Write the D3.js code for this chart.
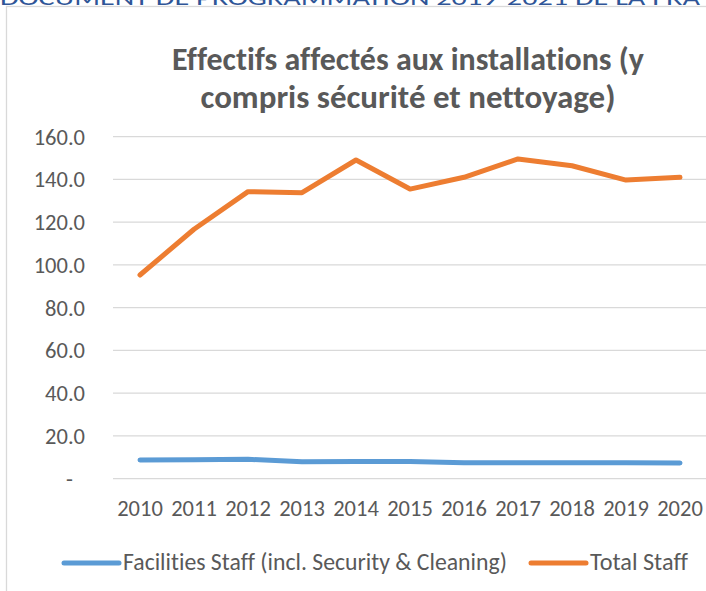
<!DOCTYPE html>
<html>
<head>
<meta charset="utf-8">
<script src="https://cdn.jsdelivr.net/npm/d3@7"></script>
<style>
  body { margin: 0; background: #fff; }
  svg { display: block; }
  text { font-family: Carlito, "Open Sans", sans-serif; font-variant-ligatures: none; }
</style>
</head>
<body>
<div id="chart-area"></div>
<script>
var width = 706;
var height = 591;

// data
var years = ["2010", "2011", "2012", "2013", "2014", "2015", "2016", "2017", "2018", "2019", "2020"];
var facilities = [8.7, 8.9, 9.1, 7.9, 8.0, 8.0, 7.5, 7.5, 7.5, 7.5, 7.4];
var totalStaff = [95.3, 116.7, 134.3, 133.8, 149.1, 135.5, 141.0, 149.6, 146.4, 139.7, 141.0];
var yTicks = [0, 20, 40, 60, 80, 100, 120, 140, 160];
var seriesNames = ["Facilities Staff (incl. Security & Cleaning)", "Total Staff"];
var seriesColors = ["#5B9BD5", "#ED7D31"];
var titleLines = ["Effectifs affectés aux installations (y", "compris sécurité et nettoyage)"];
var headerText = "DOCUMENT DE PROGRAMMATION 2019-2021 DE LA FRA";

var svg = d3.select("#chart-area").append("svg")
    .attr("width", width)
    .attr("height", height);

// header of the page, cut at the top
svg.append("text")
    .attr("x", 0)
    .attr("y", 5)
    .attr("font-size", 20)
    .attr("fill", "#2F5597")
    .attr("textLength", 700)
    .attr("lengthAdjust", "spacingAndGlyphs")
    .text(headerText);

// chart frame
svg.append("rect")
    .attr("x", 6.5)
    .attr("y", 6.5)
    .attr("width", 800)
    .attr("height", 700)
    .attr("fill", "none")
    .attr("stroke", "#D9D9D9")
    .attr("stroke-width", 1.3);

// fit a text to a given width by changing its size
function fitText(sel, target) {
    var len = sel.node().getComputedTextLength();
    var size = +sel.attr("font-size");
    sel.attr("font-size", size * target / len);
}

var titleWidths = [472, 415];
titleLines.forEach((t, i) => {
    var tt = svg.append("text")
        .attr("x", 408)
        .attr("y", 70 + i * 38)
        .attr("text-anchor", "middle")
        .attr("font-size", 24)
        .attr("font-weight", "bold")
        .attr("fill", "#595959")
        .text(t);
    fitText(tt, titleWidths[i]);
});

var x = d3.scaleBand()
    .domain(years)
    .range([113, 707]);

var y = d3.scaleLinear()
    .domain([0, 160])
    .range([478.7, 136.7]);

// gridlines
svg.append("g")
    .selectAll("line")
    .data(yTicks)
    .enter().append("line")
    .attr("x1", 113)
    .attr("x2", 707)
    .attr("y1", d => y(d))
    .attr("y2", d => y(d))
    .attr("stroke", "#D9D9D9")
    .attr("stroke-width", 1.3);

// y labels
svg.append("g")
    .selectAll("text")
    .data(yTicks)
    .enter().append("text")
    .attr("x", 85)
    .attr("dx", d => d === 0 ? -12 : 0)
    .attr("y", d => y(d))
    .attr("dy", "0.35em")
    .attr("text-anchor", "end")
    .attr("font-size", 22.5)
    .attr("fill", "#595959")
    .text(d => d === 0 ? "-" : d3.format(".1f")(d));

// x labels
svg.append("g")
    .selectAll("text")
    .data(years)
    .enter().append("text")
    .attr("x", d => x(d) + x.bandwidth() / 2)
    .attr("y", 516)
    .attr("text-anchor", "middle")
    .attr("font-size", 22.5)
    .attr("fill", "#595959")
    .text(d => d);

var line = d3.line()
    .x((d, i) => x(years[i]) + x.bandwidth() / 2)
    .y(d => y(d));

[facilities, totalStaff].forEach((s, i) => {
    svg.append("path")
        .datum(s)
        .attr("d", line)
        .attr("fill", "none")
        .attr("stroke", seriesColors[i])
        .attr("stroke-width", 5)
        .attr("stroke-linecap", "round")
        .attr("stroke-linejoin", "round");
});

// legend
var legendX = [64, 531];
var legendTextW = [384, 98];
seriesNames.forEach((n, i) => {
    svg.append("line")
        .attr("x1", legendX[i])
        .attr("x2", legendX[i] + 55)
        .attr("y1", 563)
        .attr("y2", 563)
        .attr("stroke", seriesColors[i])
        .attr("stroke-width", 5)
        .attr("stroke-linecap", "round");
    var lt = svg.append("text")
        .attr("x", legendX[i] + 59)
        .attr("y", 570)
        .attr("font-size", 20)
        .attr("fill", "#595959")
        .text(n);
    fitText(lt, legendTextW[i]);
});
</script>
</body>
</html>
